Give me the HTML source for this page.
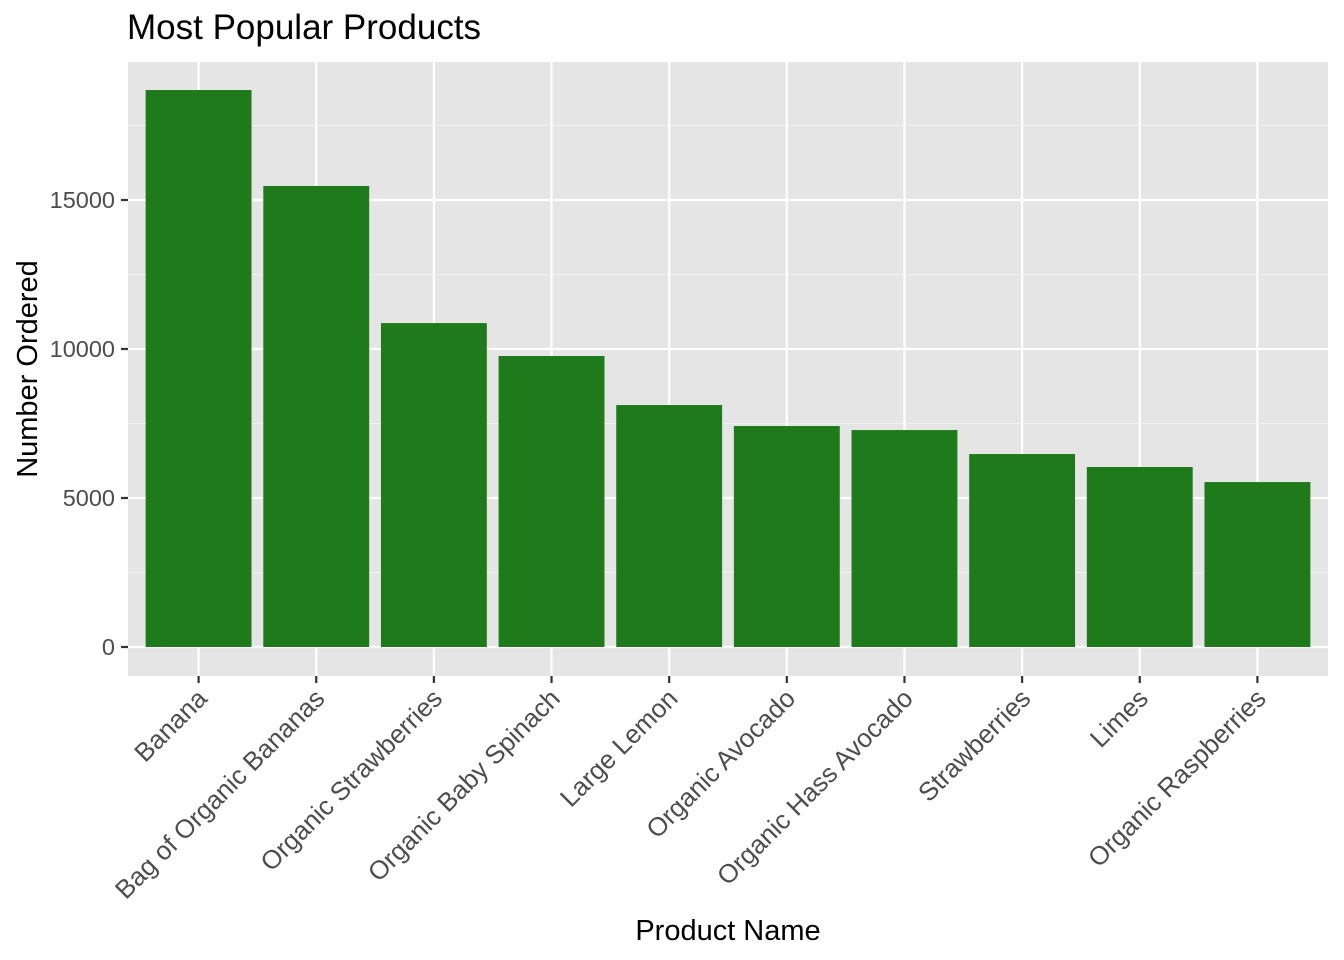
<!DOCTYPE html>
<html><head><meta charset="utf-8"><style>
body{margin:0;background:#fff;}
svg{display:block;font-family:"Liberation Sans",Arial,sans-serif;}
</style></head><body>
<svg id="chart" width="1344" height="960"></svg>
<script>
const categories=["Banana","Bag of Organic Bananas","Organic Strawberries","Organic Baby Spinach","Large Lemon","Organic Avocado","Organic Hass Avocado","Strawberries","Limes","Organic Raspberries"];
const values=[18690,15470,10870,9765,8120,7415,7280,6475,6040,5535];
const yTicks=[0,5000,10000,15000];
const yMinor=[2500,7500,12500,17500];
const NS="http://www.w3.org/2000/svg";
const svg=document.getElementById('chart');
const L=128,R=1328,T=62,B=676;
const band=(R-L)/(categories.length-1+1.2);
const x=i=>L+band*(0.6+i);
const y=v=>647-v*0.0298;
function mk(tag,attrs,parent){const e=document.createElementNS(NS,tag);for(const k in attrs)e.setAttribute(k,attrs[k]);(parent||svg).appendChild(e);return e;}
const panel=mk('rect',{x:L,y:T,width:R-L,height:B-T,fill:'#e5e5e5'});


yMinor.forEach(v=>{const g=mk('line',{x1:L,x2:R,y1:y(v),y2:y(v),stroke:'#f2f2f2','stroke-width':1.1});

});
yTicks.forEach(v=>{const g=mk('line',{x1:L,x2:R,y1:y(v),y2:y(v),stroke:'#fff','stroke-width':2.2});


const t=mk('line',{x1:L-7,x2:L,y1:y(v),y2:y(v),stroke:'#333','stroke-width':2.2});


const lb=mk('text',{x:L-13,y:y(v)+8,'text-anchor':'end','font-size':23.5,fill:'#4d4d4d'});lb.textContent=v;

});
categories.forEach((c,i)=>{const cx=x(i);
const g=mk('line',{x1:cx,x2:cx,y1:T,y2:B,stroke:'#fff','stroke-width':2.2});


const b=mk('rect',{x:cx-band*0.45,y:y(values[i]),width:band*0.9,height:y(0)-y(values[i]),fill:'#1f7a1c'});


const t=mk('line',{x1:cx,x2:cx,y1:B,y2:B+7,stroke:'#333','stroke-width':2.2});


const lb=mk('text',{x:cx+10,y:B+24,'text-anchor':'end','font-size':26,fill:'#4d4d4d',transform:`rotate(-45 ${cx+10} ${B+24})`});lb.textContent=c;

});
const title=mk('text',{x:127,y:39,'font-size':35,fill:'#000'});title.textContent='Most Popular Products';


const xt=mk('text',{x:728,y:940,'text-anchor':'middle','font-size':29,fill:'#000'});xt.textContent='Product Name';


const yt=mk('text',{x:0,y:0,'text-anchor':'middle','font-size':29,fill:'#000',transform:'translate(37 369) rotate(-90)'});yt.textContent='Number Ordered';


</script>
</body></html>
